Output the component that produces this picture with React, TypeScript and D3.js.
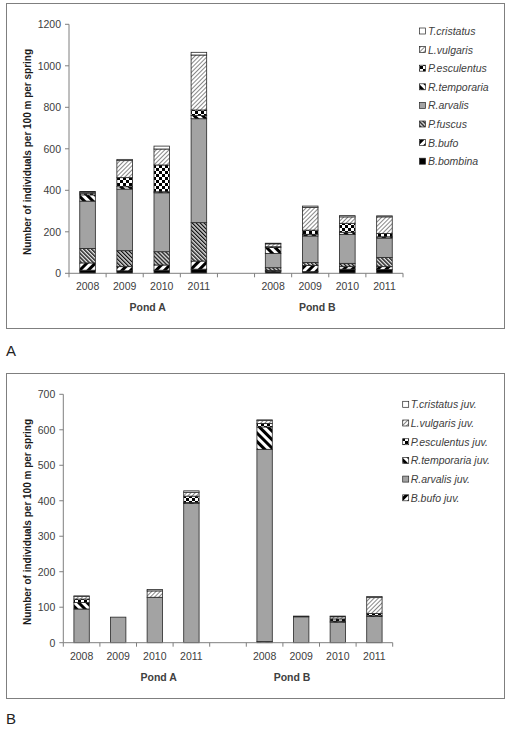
import React from "react";
import * as d3 from "d3";

const years = ["2008", "2009", "2010", "2011"];
const ponds = ["Pond A", "Pond B"];

// Adults (Pond A 2008-2011, Pond B 2008-2011)
const adultSpecies = ["B.bombina", "B.bufo", "P.fuscus", "R.arvalis", "R.temporaria", "P.esculentus", "L.vulgaris", "T.cristatus"];
const bBombina = [15, 12, 15, 20, 10, 8, 20, 18];
const bBufo = [35, 20, 25, 39, 3, 30, 12, 14];
const pFuscus = [70, 77, 64, 185, 14, 14, 16, 44];
const rArvalis = [228, 297, 284, 501, 69, 128, 140, 94];
const rTemporaria = [30, 11, 5, 15, 28, 8, 10, 6];
const pEsculentus = [8, 44, 129, 27, 4, 20, 43, 16];
const lVulgaris = [5, 82, 77, 265, 14, 110, 31, 80];
const tCristatus = [3, 6, 14, 13, 3, 6, 6, 5];

// Juveniles
const juvSpecies = ["B.bufo juv.", "R.arvalis juv.", "R.temporaria juv.", "P.esculentus juv.", "L.vulgaris juv.", "T.cristatus juv."];
const bBufoJuv = [0, 0, 0, 0, 3, 0, 0, 0];
const rArvalisJuv = [95, 72, 128, 392, 542, 73, 58, 74];
const rTemporariaJuv = [18, 0, 0, 3, 63, 0, 3, 2];
const pEsculentusJuv = [10, 0, 0, 18, 10, 2, 6, 6];
const lVulgarisJuv = [7, 0, 18, 11, 8, 0, 6, 45];
const tCristatusJuv = [2, 0, 4, 4, 2, 0, 2, 3];

const adultTicks = [0, 200, 400, 600, 800, 1000, 1200];
const juvTicks = [0, 100, 200, 300, 400, 500, 600, 700];

const adultValues = [bBombina, bBufo, pFuscus, rArvalis, rTemporaria, pEsculentus, lVulgaris, tCristatus];
const adultFills = ["p-black", "p-bufo", "p-fuscus", "p-gray", "p-temp", "p-check", "p-vulg", "p-white"];
const juvValues = [bBufoJuv, rArvalisJuv, rTemporariaJuv, pEsculentusJuv, lVulgarisJuv, tCristatusJuv];
const juvFills = ["p-bufo", "p-gray", "p-temp", "p-check", "p-vulg", "p-white"];

const slots = ["A-2008", "A-2009", "A-2010", "A-2011", "gap", "B-2008", "B-2009", "B-2010", "B-2011"];
const barSlots = slots.filter((s) => s !== "gap");

const TEXT = "#404040";
const FONT = "Liberation Sans, Arial, sans-serif";

function Patterns() {
  return (
    <defs>
      <pattern id="p-black" width="4" height="4" patternUnits="userSpaceOnUse">
        <rect width="4" height="4" fill="#000" />
      </pattern>
      <pattern id="p-gray" width="4" height="4" patternUnits="userSpaceOnUse">
        <rect width="4" height="4" fill="#a3a3a3" />
      </pattern>
      <pattern id="p-white" width="4" height="4" patternUnits="userSpaceOnUse">
        <rect width="4" height="4" fill="#fff" />
      </pattern>
      <pattern id="p-bufo" width="6" height="6" patternUnits="userSpaceOnUse" patternTransform="rotate(45)">
        <rect width="6" height="6" fill="#fff" />
        <rect width="3" height="6" fill="#000" />
      </pattern>
      <pattern id="p-temp" width="6" height="6" patternUnits="userSpaceOnUse" patternTransform="rotate(-45)">
        <rect width="6" height="6" fill="#fff" />
        <rect width="3" height="6" fill="#000" />
      </pattern>
      <pattern id="p-fuscus" width="2.8" height="2.8" patternUnits="userSpaceOnUse" patternTransform="rotate(-45)">
        <rect width="2.8" height="2.8" fill="#e0e0e0" />
        <rect width="1.3" height="2.8" fill="#111" />
      </pattern>
      <pattern id="p-vulg" width="3" height="3" patternUnits="userSpaceOnUse" patternTransform="rotate(45)">
        <rect width="3" height="3" fill="#fff" />
        <rect width="1" height="3" fill="#888" />
      </pattern>
      <pattern id="p-check" width="6" height="6" patternUnits="userSpaceOnUse">
        <rect width="6" height="6" fill="#fff" />
        <rect x="0" y="0" width="3" height="3" fill="#000" />
        <rect x="3" y="3" width="3" height="3" fill="#000" />
      </pattern>
    </defs>
  );
}

type ChartProps = {
  top: number;
  frameBottom: number;
  axisX: number;
  axisRight: number;
  yZero: number;
  yTopPx: number;
  ticks: number[];
  species: string[];
  values: number[][];
  fills: string[];
  legendMarkerX: number;
  legendTextX: number;
  legendY0: number;
  legendStep: number;
  titleY: number;
  pondX: number[];
  pondY: number;
  yearY: number;
  letter: string;
  letterY: number;
};

function Chart(p: ChartProps) {
  const yMax = p.ticks[p.ticks.length - 1];
  const y = d3.scaleLinear().domain([0, yMax]).range([p.yZero, p.yTopPx]);
  const x = d3.scaleBand<string>().domain(slots).range([p.axisX, p.axisRight]).paddingInner(0.58).paddingOuter(0.29);
  const step = x.step();

  const keys = p.species;
  const rows = barSlots.map((slot, i) => {
    const r: any = { slot };
    keys.forEach((k, j) => (r[k] = p.values[j][i]));
    return r;
  });
  const stacked = d3.stack<any>().keys(keys)(rows);

  return (
    <g>
      <rect x={6.5} y={p.top + 0.5} width={498} height={p.frameBottom - p.top} fill="#fff" stroke="#7f7f7f" strokeWidth={1} />
      {/* bars */}
      {stacked.map((layer, li) =>
        layer.map((d, i) => {
          const h = y(d[0]) - y(d[1]);
          if (h <= 0) return null;
          return (
            <rect
              key={`${li}-${i}`}
              x={x(d.data.slot)!}
              y={y(d[1])}
              width={x.bandwidth()}
              height={h}
              fill={`url(#${p.fills[li]})`}
              stroke="#262626"
              strokeWidth={0.8}
            />
          );
        })
      )}
      {/* y axis */}
      <line x1={p.axisX} x2={p.axisX} y1={y(yMax)} y2={p.yZero} stroke="#7f7f7f" strokeWidth={1} />
      {p.ticks.map((t) => (
        <g key={t}>
          <line x1={p.axisX - 4} x2={p.axisX} y1={y(t)} y2={y(t)} stroke="#7f7f7f" strokeWidth={1} />
          <text x={p.axisX - 8} y={y(t)} textAnchor="end" dominantBaseline="central" fontSize={10.5} fill={TEXT} fontFamily={FONT}>
            {t}
          </text>
        </g>
      ))}
      {/* x axis */}
      <line x1={p.axisX} x2={p.axisRight} y1={p.yZero} y2={p.yZero} stroke="#7f7f7f" strokeWidth={1} />
      {d3.range(slots.length + 1).map((i) => (
        <line key={i} x1={p.axisX + i * step} x2={p.axisX + i * step} y1={p.yZero} y2={p.yZero + 4} stroke="#7f7f7f" strokeWidth={1} />
      ))}
      {barSlots.map((s, i) => (
        <text key={s} x={x(s)! + x.bandwidth() / 2} y={p.yearY} textAnchor="middle" dominantBaseline="central" fontSize={10.5} fill={TEXT} fontFamily={FONT}>
          {years[i % 4]}
        </text>
      ))}
      {ponds.map((pd, i) => (
        <text key={pd} x={p.pondX[i]} y={p.pondY} textAnchor="middle" dominantBaseline="central" fontSize={10.5} fontWeight="bold" fill={TEXT} fontFamily={FONT}>
          {pd}
        </text>
      ))}
      {/* y title */}
      <text
        transform={`translate(27.7,${p.titleY}) rotate(-90)`}
        textAnchor="middle"
        dominantBaseline="central"
        fontSize={10}
        fontWeight="bold"
        fill="#1a1a1a"
        fontFamily={FONT}
      >
        Number of individuals per 100 m per spring
      </text>
      {/* legend */}
      {keys
        .slice()
        .reverse()
        .map((k, i) => {
          const li = keys.length - 1 - i;
          const cy = p.legendY0 + i * p.legendStep;
          return (
            <g key={k}>
              <rect x={p.legendMarkerX} y={cy - 3} width={6} height={6} fill={`url(#${p.fills[li]})`} stroke="#262626" strokeWidth={0.7} />
              <text x={p.legendTextX} y={cy} dominantBaseline="central" fontSize={10.5} fontStyle="italic" fill={TEXT} fontFamily={FONT}>
                {k}
              </text>
            </g>
          );
        })}
      <text x={6} y={p.letterY} fontSize={15} fill="#222" fontFamily={FONT}>
        {p.letter}
      </text>
    </g>
  );
}

export default function App() {
  return (
    <svg width={510} height={729} style={{ position: "absolute", left: 0, top: 0 }} xmlns="http://www.w3.org/2000/svg">
      <Patterns />
      <rect width={510} height={729} fill="#fff" />
      <Chart
        top={3}
        frameBottom={328}
        axisX={69}
        axisRight={403}
        yZero={273.3}
        yTopPx={24.3}
        ticks={adultTicks}
        species={adultSpecies}
        values={adultValues}
        fills={adultFills}
        legendMarkerX={419.5}
        legendTextX={428}
        legendY0={31}
        legendStep={18.6}
        titleY={152}
        pondX={[147.7, 317.3]}
        pondY={307}
        yearY={286}
        letter="A"
        letterY={356}
      />
      <Chart
        top={373}
        frameBottom={698}
        axisX={63.3}
        axisRight={392.7}
        yZero={642.7}
        yTopPx={394.3}
        ticks={juvTicks}
        species={juvSpecies}
        values={juvValues}
        fills={juvFills}
        legendMarkerX={402.7}
        legendTextX={410.7}
        legendY0={404.3}
        legendStep={18.7}
        titleY={522}
        pondX={[158.7, 292]}
        pondY={676.7}
        yearY={655.7}
        letter="B"
        letterY={724}
      />
    </svg>
  );
}
